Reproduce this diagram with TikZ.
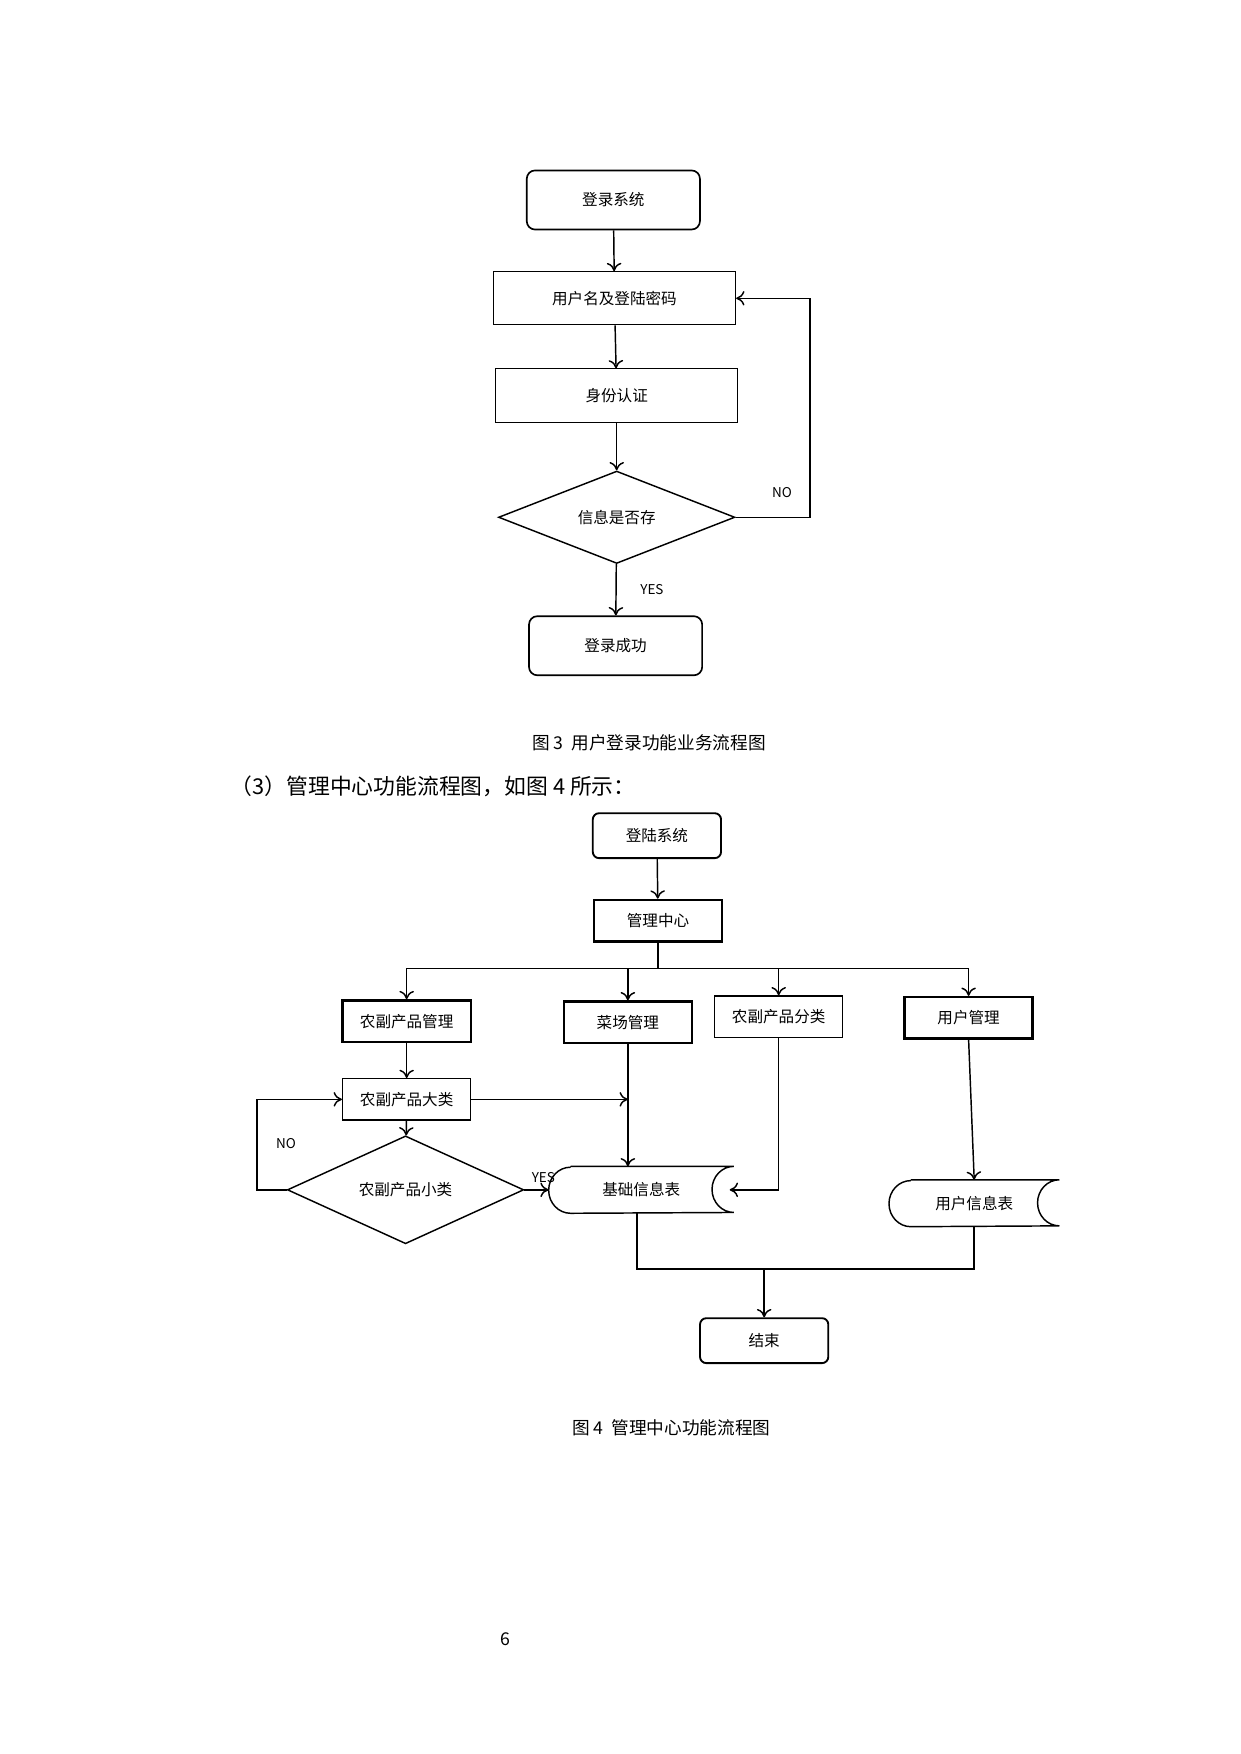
\documentclass[tikz,border=0pt]{standalone}
\usepackage{fontspec}
\setmainfont{Noto Sans CJK SC}
\usetikzlibrary{shapes.geometric, arrows, arrows.meta, positioning, calc}

\begin{document}
\begin{tikzpicture}[
    x=0.0189cm, y=-0.0189cm,
    font=\fontsize{7.5pt}{9pt}\selectfont,
    flow/.style={->, >={To[length=4pt,width=7pt]}, line width=0.7pt},
    startstop/.style={rectangle, rounded corners=4pt, draw, line width=0.8pt, minimum width=2.93cm, minimum height=1cm},
    process/.style={rectangle, draw, line width=0.5pt, minimum width=4.1cm, minimum height=0.9cm},
    decision/.style={diamond, draw, line width=0.7pt, inner sep=0pt, minimum width=4cm, minimum height=1.22cm},
    box/.style={rectangle, draw, line width=0.6pt, minimum width=2.17cm, minimum height=0.7cm},
    thickbox/.style={box, line width=1.2pt},
    term/.style={rectangle, rounded corners=3pt, draw, line width=0.9pt, minimum width=2.17cm, minimum height=0.76cm},
    store/.style={rectangle, minimum width=#1, minimum height=0.78cm}
]
\useasboundingbox[fill=white] (0,0) rectangle (1110,1570);

% 用户登录功能
\node[startstop] (login) at (549,179) {登录系统};
\node[process] (account) at (550,267) {用户名及登陆密码};
\node[process] (auth) at (552,354) {身份认证};
\node[decision] (exist) at (552,463) {信息是否存};
\node[startstop] (success) at (551,578) {登录成功};
\coordinate (noturn) at (725,463);

\draw[flow] (login) -- (account);
\draw[flow] (account) -- (auth);
\draw[flow] (auth) -- (exist);
\draw[flow] (exist) -- node[right, xshift=8pt, font=\fontsize{6.5pt}{8pt}\selectfont] {YES} (success);
\draw[flow] (exist.east) -- (noturn) |- (account.east);
\node[font=\fontsize{6.5pt}{8pt}\selectfont] (nolabel) at (700,441) {NO};

\node[font=\fontsize{8.5pt}{10pt}\selectfont] (cap3) at (581,665) {图 3 \ 用户登录功能业务流程图};
\node[anchor=west, font=\fontsize{10.5pt}{12pt}\selectfont] (intro) at (200,704) {（3）管理中心功能流程图，如图 4 所示：};

% 管理中心功能
\node[term] (enter) at (588,748) {登陆系统};
\node[thickbox] (center) at (589,824) {管理中心};
\node[thickbox] (prodmgr) at (364,914) {农副产品管理};
\node[thickbox] (market) at (562,915) {菜场管理};
\node[box] (classify) at (697,910) {农副产品分类};
\node[thickbox] (usermgr) at (867,911) {用户管理};
\node[box] (major) at (364,984) {农副产品大类};
\node[decision] (minor) at (363,1065) {农副产品小类};
\node[store=3.12cm] (basic) at (574,1065) {基础信息表};
\node[store=2.87cm] (userinfo) at (872,1077) {用户信息表};
\node[term] (finish) at (684,1200) {结束};

\draw[line width=0.7pt] ([xshift=0.37cm]basic.north west) -- (basic.north east)
    arc(90:270:0.37cm and 0.39cm) -- ([xshift=0.37cm]basic.south west)
    arc(270:90:0.37cm and 0.39cm);
\draw[line width=0.7pt] ([xshift=0.37cm]userinfo.north west) -- (userinfo.north east)
    arc(90:270:0.37cm and 0.39cm) -- ([xshift=0.37cm]userinfo.south west)
    arc(270:90:0.37cm and 0.39cm);

\coordinate (branch) at (589,867);
\coordinate (merge) at (684,1136);
\coordinate (noleft) at (230,1065);

\draw[flow] (enter) -- (center);
\draw[line width=0.7pt] (center) -- (branch);
\draw[flow] (branch) -| (prodmgr.north);
\draw[flow] (branch) -| (market.north);
\draw[flow] (branch) -| (classify.north);
\draw[flow] (branch) -| (usermgr.north);
\draw[flow] (prodmgr) -- (major);
\draw[flow] (major) -- (minor);
\draw[flow] (major.east) -- (market.south |- major.east);
\draw[flow] (market) -- (market.south |- basic.north);
\draw[flow] (classify.south) |- ([xshift=-2pt]basic.east);
\draw[flow] (minor.east) -- node[above right, xshift=-6pt, font=\fontsize{6.5pt}{8pt}\selectfont] {YES} (basic.west);
\draw[flow] (minor.west) -- (noleft) |- (major.west);
\node[font=\fontsize{6.5pt}{8pt}\selectfont] (nolabel2) at (256,1024) {NO};
\draw[flow] (usermgr.south) -- (userinfo.north);
\draw[line width=0.7pt] ([xshift=-2pt]basic.south) |- (merge);
\draw[line width=0.7pt] (userinfo.south) |- (merge);
\draw[flow] (merge) -- (finish);

\node[font=\fontsize{8.5pt}{10pt}\selectfont] (cap4) at (601,1278) {图 4 \ 管理中心功能流程图};
\node[font=\fontsize{8.5pt}{10pt}\selectfont] (page) at (452,1467) {6};
\end{tikzpicture}
\end{document}
